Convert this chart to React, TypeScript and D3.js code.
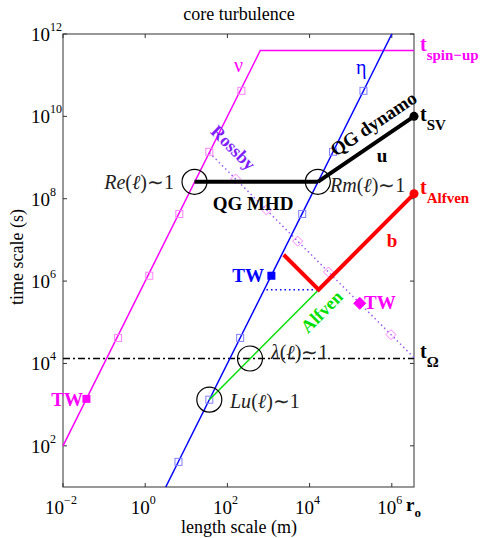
import React from "react";
import * as d3 from "d3";

// exponents (log10) of length (m) and time (s)
const xTickExps = [-2, 0, 2, 4, 6];
const yTickExps = [2, 4, 6, 8, 10, 12];
const rO = 6.54; // log10 core radius
const nuLine: [number, number][] = [[-2, 2], [2.8, 11.6], [6.54, 11.6]];
const etaLine: [number, number][] = [[0.5, 1], [6.0, 12]];
const nuSquares: [number, number][] = [[-0.66, 4.62], [0.1, 6.13], [0.83, 7.63], [1.56, 9.14], [2.34, 10.62]];
const etaSquares: [number, number][] = [[0.81, 1.61], [1.56, 3.12], [2.31, 4.62], [3.82, 7.63], [4.57, 9.14], [5.31, 10.62]];
const rossbyLine: [number, number][] = [[1.56, 9.12], [6.54, 4.14]];
const rossbyDiamonds: [number, number][] = [[2.2, 8.48], [2.95, 7.73], [3.71, 6.97], [4.46, 6.22], [5.98, 4.7]];
const qgMhd: [number, number][] = [[1.2, 8.41], [4.2, 8.41]];
const qgDynamo: [number, number][] = [[4.2, 8.41], [6.54, 10.0]];
const redLine: [number, number][] = [[3.37, 6.64], [4.22, 5.79], [6.54, 8.12]];
const greenLine: [number, number][] = [[1.56, 3.12], [4.22, 5.79]];
const blueDotted: [number, number][] = [[2.95, 5.79], [4.22, 5.79]];
const tOmega: [number, number][] = [[-2, 4.12], [6.54, 4.12]];
const circles: [number, number][] = [[1.2, 8.41], [4.2, 8.41], [2.55, 4.12], [1.56, 3.12]];
const twNu: [number, number] = [-1.43, 3.14];
const twEta: [number, number] = [3.07, 6.13];
const twRossby: [number, number] = [5.22, 5.46];
const tSV: [number, number] = [6.54, 10.0];
const tAlfven: [number, number] = [6.54, 8.12];

const W = 481, H = 538;
const L = 63, R = 414, T = 34, B = 487;
const serif = "'Times New Roman', 'Liberation Serif', Times, serif";

export default function App() {
  const x = d3.scaleLog().domain([1e-2, Math.pow(10, rO)]).range([L, R]);
  const y = d3.scaleLog().domain([10, 1e12]).range([B, T]);
  const px = (e: number) => x(Math.pow(10, e));
  const py = (e: number) => y(Math.pow(10, e));
  const line = d3.line<[number, number]>().x((d) => px(d[0])).y((d) => py(d[1]));

  const sq = (p: [number, number], color: string, key: string, s = 7) => (
    <rect key={key} x={px(p[0]) - s / 2} y={py(p[1]) - s / 2} width={s} height={s} fill="none" stroke={color} strokeWidth={1} />
  );
  const diamond = (p: [number, number], color: string, key: string, fill = "none", s = 5) => {
    const cx = px(p[0]), cy = py(p[1]);
    return <path key={key} d={`M${cx},${cy - s}L${cx + s},${cy}L${cx},${cy + s}L${cx - s},${cy}Z`} fill={fill} stroke={color} strokeWidth={1} />;
  };

  return (
    <svg width={W} height={H} style={{ position: "absolute", left: 0, top: 0, background: "#fff", fontFamily: serif }}>
      <text x={239} y={20} fontSize={18} textAnchor="middle">core turbulence</text>
      {/* axes box */}
      <rect x={L} y={T} width={R - L} height={B - T} fill="none" stroke="#333" strokeWidth={1} />
      {xTickExps.map((e) => (
        <g key={"xt" + e}>
          <line x1={px(e)} x2={px(e)} y1={B} y2={B - 4} stroke="#333" />
          <line x1={px(e)} x2={px(e)} y1={T} y2={T + 4} stroke="#333" />
          <text x={px(e) - 2} y={514} fontSize={19} textAnchor="middle">
            10<tspan fontSize={12} dy={-10}>{e < 0 ? "\u2212" + -e : e}</tspan>
          </text>
        </g>
      ))}
      {yTickExps.map((e) => (
        <g key={"yt" + e}>
          <line x1={L} x2={L + 4} y1={py(e)} y2={py(e)} stroke="#333" />
          <line x1={R} x2={R - 4} y1={py(e)} y2={py(e)} stroke="#333" />
          <text x={31} y={py(e) + 7} fontSize={19}>
            10<tspan fontSize={12} dy={-10}>{e}</tspan>
          </text>
        </g>
      ))}
      <text x={239} y={533} fontSize={18} textAnchor="middle">length scale (m)</text>
      <text transform={`translate(23,257) rotate(-90)`} fontSize={18} textAnchor="middle">time scale (s)</text>
      <text x={406} y={511} fontSize={19} fontWeight="bold">r<tspan fontSize={13} dy={6}>o</tspan></text>

      {/* t_Omega */}
      <path d={line(tOmega) || ""} fill="none" stroke="#000" strokeWidth={1.5} strokeDasharray="7,3,2,3" />
      {/* rossby dotted */}
      <path d={line(rossbyLine) || ""} fill="none" stroke="#9a5cf0" strokeWidth={1.5} strokeDasharray="1.5,3" />
      {rossbyDiamonds.map((p, i) => diamond(p, "#ff80ff", "rd" + i))}
      {/* nu and eta */}
      <path d={line(nuLine) || ""} fill="none" stroke="#ff00ff" strokeWidth={1.5} />
      <path d={line(etaLine) || ""} fill="none" stroke="#0000ff" strokeWidth={1.5} />
      {nuSquares.map((p, i) => sq(p, "#ff80ff", "ns" + i))}
      {etaSquares.map((p, i) => sq(p, "#8080ff", "es" + i))}
      {/* green */}
      <path d={line(greenLine) || ""} fill="none" stroke="#00e000" strokeWidth={1.5} />
      <path d={line(blueDotted) || ""} fill="none" stroke="#0000ff" strokeWidth={1.5} strokeDasharray="1.5,3" />
      {/* red */}
      <path d={line(redLine) || ""} fill="none" stroke="#ff0000" strokeWidth={4} />
      <circle cx={px(tAlfven[0])} cy={py(tAlfven[1])} r={4.5} fill="#ff0000" />
      {/* black */}
      <path d={line(qgMhd) || ""} fill="none" stroke="#000" strokeWidth={4} />
      <path d={line(qgDynamo) || ""} fill="none" stroke="#000" strokeWidth={4} />
      <circle cx={px(tSV[0])} cy={py(tSV[1])} r={4.5} fill="#000" />
      {circles.map((c, i) => (
        <circle key={"c" + i} cx={px(c[0])} cy={py(c[1])} r={12.5} fill="none" stroke="#000" strokeWidth={1.2} />
      ))}
      {/* TW markers */}
      <rect x={px(twNu[0]) - 4} y={py(twNu[1]) - 4} width={8} height={8} fill="#ff00ff" />
      <rect x={px(twEta[0]) - 4} y={py(twEta[1]) - 4} width={8} height={8} fill="#0000ff" />
      {diamond(twRossby, "#ff00ff", "twr", "#ff00ff", 6)}

      {/* labels */}
      <text x={234} y={72} fontSize={20} fill="#ff00ff">ν</text>
      <text x={356} y={74} fontSize={20} fill="#0000ff">η</text>
      <text x={420} y={51} fontSize={20} fontWeight="bold" fill="#ff00ff">t<tspan fontSize={15} dy={9}>spin−up</tspan></text>
      <text x={420} y={121} fontSize={20} fontWeight="bold" fill="#000">t<tspan fontSize={15} dy={9}>SV</tspan></text>
      <text x={420} y={194} fontSize={20} fontWeight="bold" fill="#ff0000">t<tspan fontSize={15} dy={9}>Alfven</tspan></text>
      <text x={420} y={358} fontSize={20} fontWeight="bold" fill="#000">t<tspan fontSize={15} dy={9}>Ω</tspan></text>
      <text transform="translate(377,129) rotate(-34)" fontSize={19} fontWeight="bold" textAnchor="middle">QG dynamo</text>
      <text x={382} y={162} fontSize={19} fontWeight="bold" textAnchor="middle">u</text>
      <text x={392} y={247} fontSize={19} fontWeight="bold" fill="#ff0000" textAnchor="middle">b</text>
      <text transform="translate(229,152) rotate(45)" fontSize={18} fontWeight="bold" fill="#7f1fff" textAnchor="middle">Rossby</text>
      <text transform="translate(326,316) rotate(-45)" fontSize={18} fontWeight="bold" fill="#00e000" textAnchor="middle">Alfven</text>
      <text x={253} y={210} fontSize={19} fontWeight="bold" textAnchor="middle">QG MHD</text>
      <text x={264} y={282} fontSize={19} fontWeight="bold" fill="#0000ff" textAnchor="end">TW</text>
      <text x={364} y={309} fontSize={19} fontWeight="bold" fill="#ff00ff">TW</text>
      <text x={83} y={406} fontSize={19} fontWeight="bold" fill="#ff00ff" textAnchor="end">TW</text>
      <text x={174} y={189} fontSize={20} fill="#222" textAnchor="end"><tspan fontStyle="italic">Re</tspan>(<tspan fontStyle="italic">ℓ</tspan>)∼1</text>
      <text x={330} y={192} fontSize={20} fill="#222"><tspan fontStyle="italic">Rm</tspan>(<tspan fontStyle="italic">ℓ</tspan>)∼1</text>
      <text x={271} y={359} fontSize={20} fill="#222"><tspan fontStyle="italic">λ</tspan>(<tspan fontStyle="italic">ℓ</tspan>)∼1</text>
      <text x={230} y={408} fontSize={20} fill="#222"><tspan fontStyle="italic">Lu</tspan>(<tspan fontStyle="italic">ℓ</tspan>)∼1</text>
    </svg>
  );
}
